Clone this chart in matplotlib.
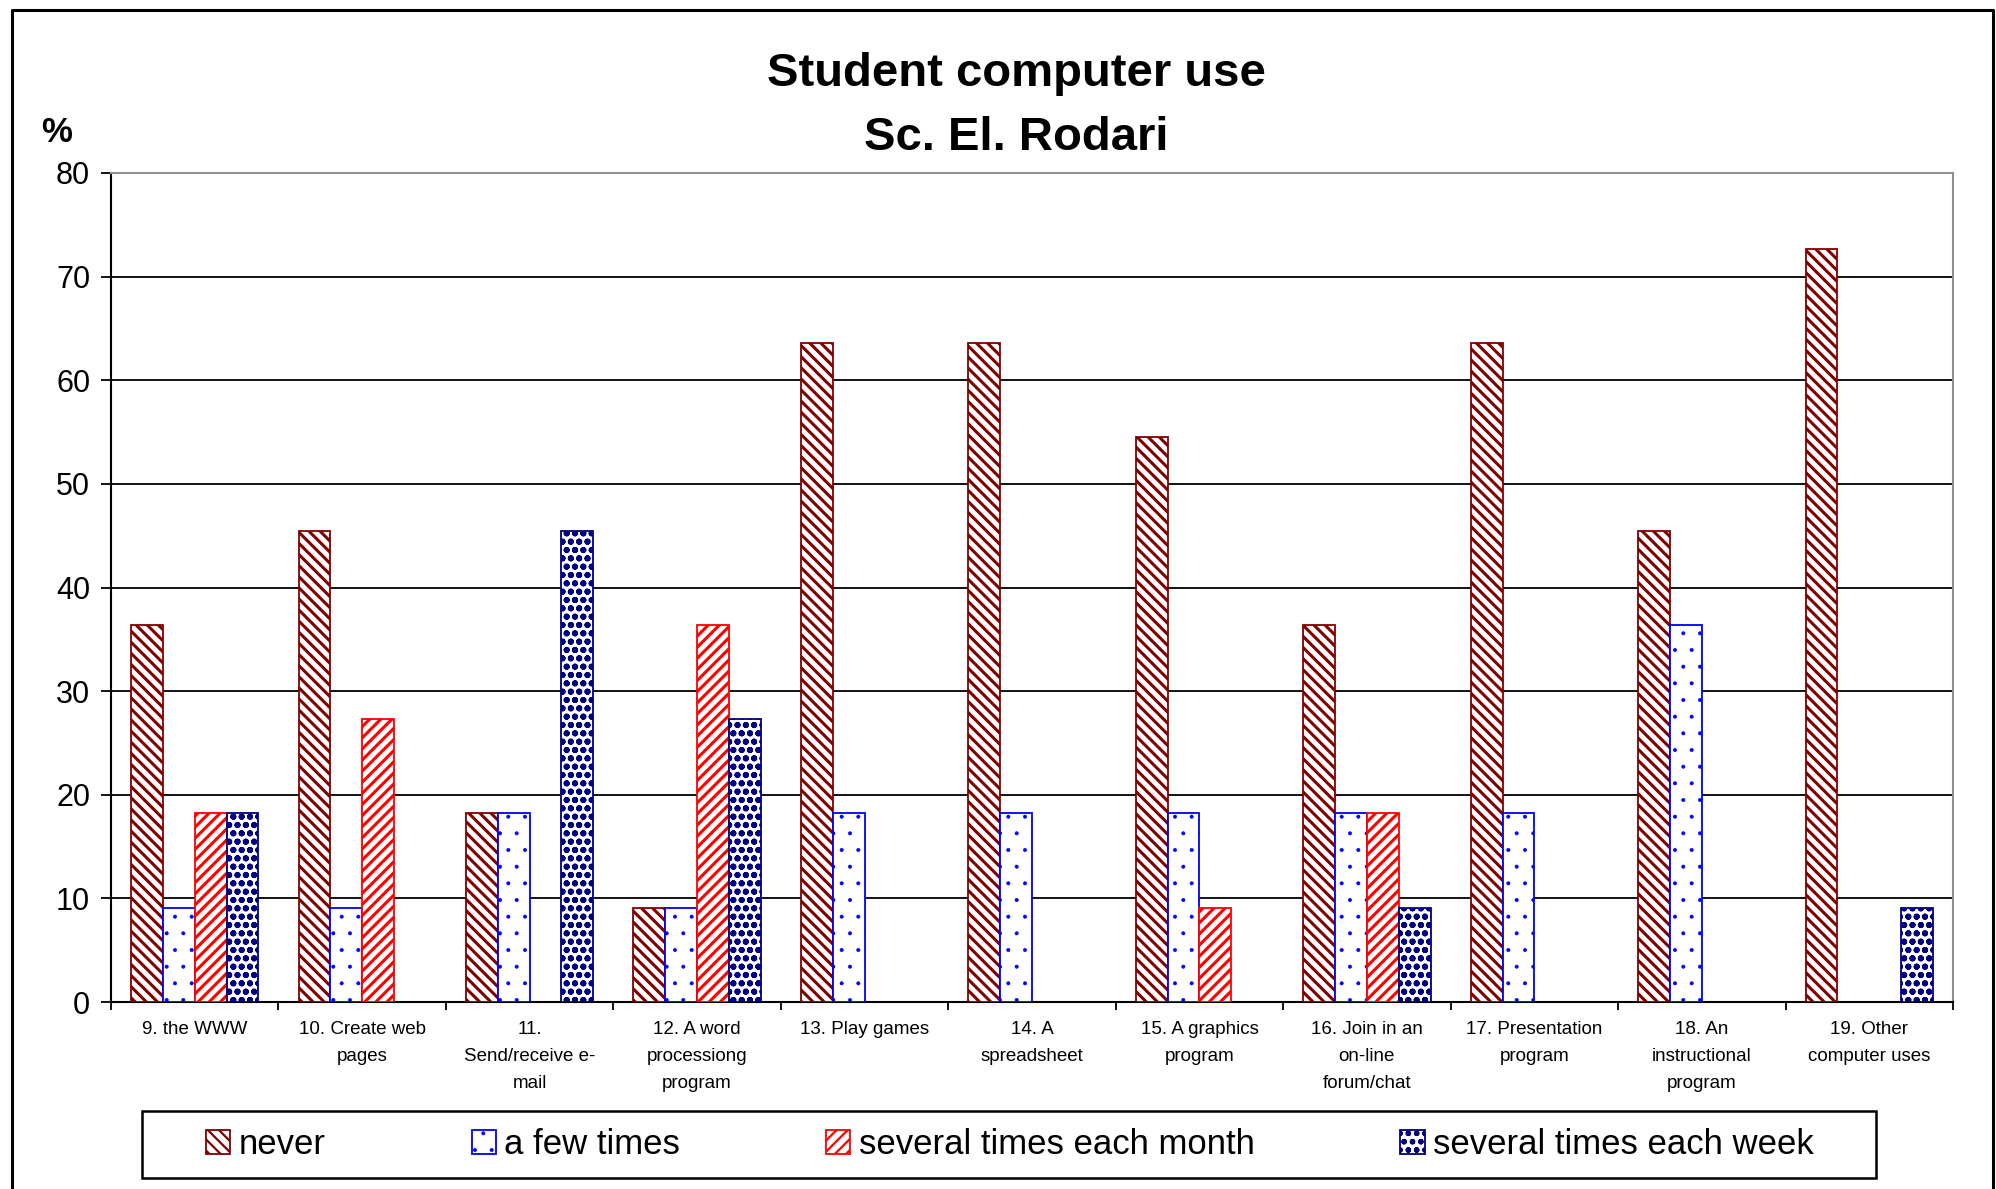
import matplotlib
matplotlib.use("Agg")
import matplotlib.pyplot as plt
from matplotlib.patches import Rectangle
from matplotlib.lines import Line2D
import numpy as np

categories = [
    "9. the WWW",
    "10. Create web\npages",
    "11.\nSend/receive e-\nmail",
    "12. A word\nprocessiong\nprogram",
    "13. Play games",
    "14. A\nspreadsheet",
    "15. A graphics\nprogram",
    "16. Join in an\non-line\nforum/chat",
    "17. Presentation\nprogram",
    "18. An\ninstructional\nprogram",
    "19. Other\ncomputer uses",
]
series_names = ["never", "a few times", "several times each month", "several times each week"]
never = [36.4, 45.5, 18.2, 9.1, 63.6, 63.6, 54.5, 36.4, 63.6, 45.5, 72.7]
few_times = [9.1, 9.1, 18.2, 9.1, 18.2, 18.2, 18.2, 18.2, 18.2, 36.4, 0]
each_month = [18.2, 27.3, 0, 36.4, 0, 0, 9.1, 18.2, 0, 0, 0]
each_week = [18.2, 0, 45.5, 27.3, 0, 0, 0, 9.1, 0, 0, 9.1]
yticks = [0, 10, 20, 30, 40, 50, 60, 70, 80]

plt.rcParams['font.family'] = ['Liberation Sans', 'DejaVu Sans']

W, H = 1996, 1189
fig = plt.figure(figsize=(W / 100, H / 100), dpi=100)
fig.patch.set_facecolor('white')

ax = fig.add_axes([111 / W, 1 - 1002 / H, (1953 - 111) / W, (1002 - 173) / H])

styles = [
    (dict(edgecolor='#800000', hatch='\\\\\\'), 2.2),
    (dict(edgecolor='#0000FF', hatch='.'), 0.4),
    (dict(edgecolor='#FF0000', hatch='///'), 2.2),
    (dict(edgecolor='#000080', hatch='oo'), 2.0),
]
data = [never, few_times, each_month, each_week]
x = np.arange(len(categories))
w = 0.19
handles = []
for j, (vals, (st, hlw)) in enumerate(zip(data, styles)):
    with plt.rc_context({'hatch.linewidth': hlw}):
        b = ax.bar(x + (j - 1.5) * w, vals, width=w, facecolor='white',
                   linewidth=1.3, zorder=3, label=series_names[j], **st)
        for p, v in zip(b.patches, vals):
            if v == 0:
                p.set_visible(False)
            if hasattr(p, 'set_hatch_linewidth'):
                p.set_hatch_linewidth(hlw)
    handles.append(b)

ax.set_xlim(-0.5, len(categories) - 0.5)
ax.set_ylim(0, 80)
ax.set_yticks(yticks)
ax.set_yticklabels([str(v) for v in yticks], fontsize=22)
for v in yticks[1:-1]:
    ax.axhline(v, color='black', linewidth=1.3, zorder=1)

ax.set_xticks(x)
ax.set_xticklabels(categories, fontsize=13.5, linespacing=1.75, va='top')
ax.set_xticks(np.arange(-0.5, len(categories)), minor=True)
ax.tick_params(axis='x', which='major', length=0, pad=14)
ax.tick_params(axis='x', which='minor', length=6, width=1.3, direction='out')
ax.tick_params(axis='y', length=7, width=1.3, direction='out', pad=8)

for s in ['left', 'bottom']:
    ax.spines[s].set_color('black')
    ax.spines[s].set_linewidth(1.5)
for s in ['top', 'right']:
    ax.spines[s].set_color('#909090')
    ax.spines[s].set_linewidth(1.5)

# titles
fig.text(1016 / W, 1 - 74 / H, "Student computer use", ha='center', va='center',
         fontsize=34, fontweight='bold')
fig.text(1016 / W, 1 - 138 / H, "Sc. El. Rodari", ha='center', va='center',
         fontsize=34, fontweight='bold')
fig.text(57 / W, 1 - 133 / H, "%", ha='center', va='center', fontsize=25, fontweight='bold')

# legend frame
lx0, lx1, ly0, ly1 = 142, 1876, 1111, 1178
fig.patches.append(Rectangle((lx0 / W, 1 - ly1 / H), (lx1 - lx0) / W, (ly1 - ly0) / H,
                             transform=fig.transFigure, fill=False, edgecolor='black',
                             linewidth=1.8))
leg = fig.legend(handles=handles, labels=series_names, loc='center', ncol=4,
                 mode='expand', frameon=False,
                 bbox_to_anchor=((lx0 + 64) / W, 1 - ly1 / H, (lx1 - lx0 - 126) / W, (ly1 - ly0) / H),
                 fontsize=25, handlelength=0.7, handleheight=0.7, handletextpad=0.25,
                 borderpad=0, borderaxespad=0)
leg_handles = getattr(leg, 'legend_handles', None) or getattr(leg, 'legendHandles', [])
for hp, (st, hlw) in zip(leg_handles, styles):
    if hasattr(hp, 'set_hatch_linewidth'):
        hp.set_hatch_linewidth(min(hlw, 1.6) if hlw > 1 else hlw)

# figure border (left, top, right)
bl, br, bt = 12 / W, 1993 / W, 1 - 10 / H
fig.lines.append(Line2D([bl, bl, br, br], [-0.01, bt, bt, -0.01], transform=fig.transFigure,
                        color='black', linewidth=2.2))

fig.savefig("out.png", dpi=100)
